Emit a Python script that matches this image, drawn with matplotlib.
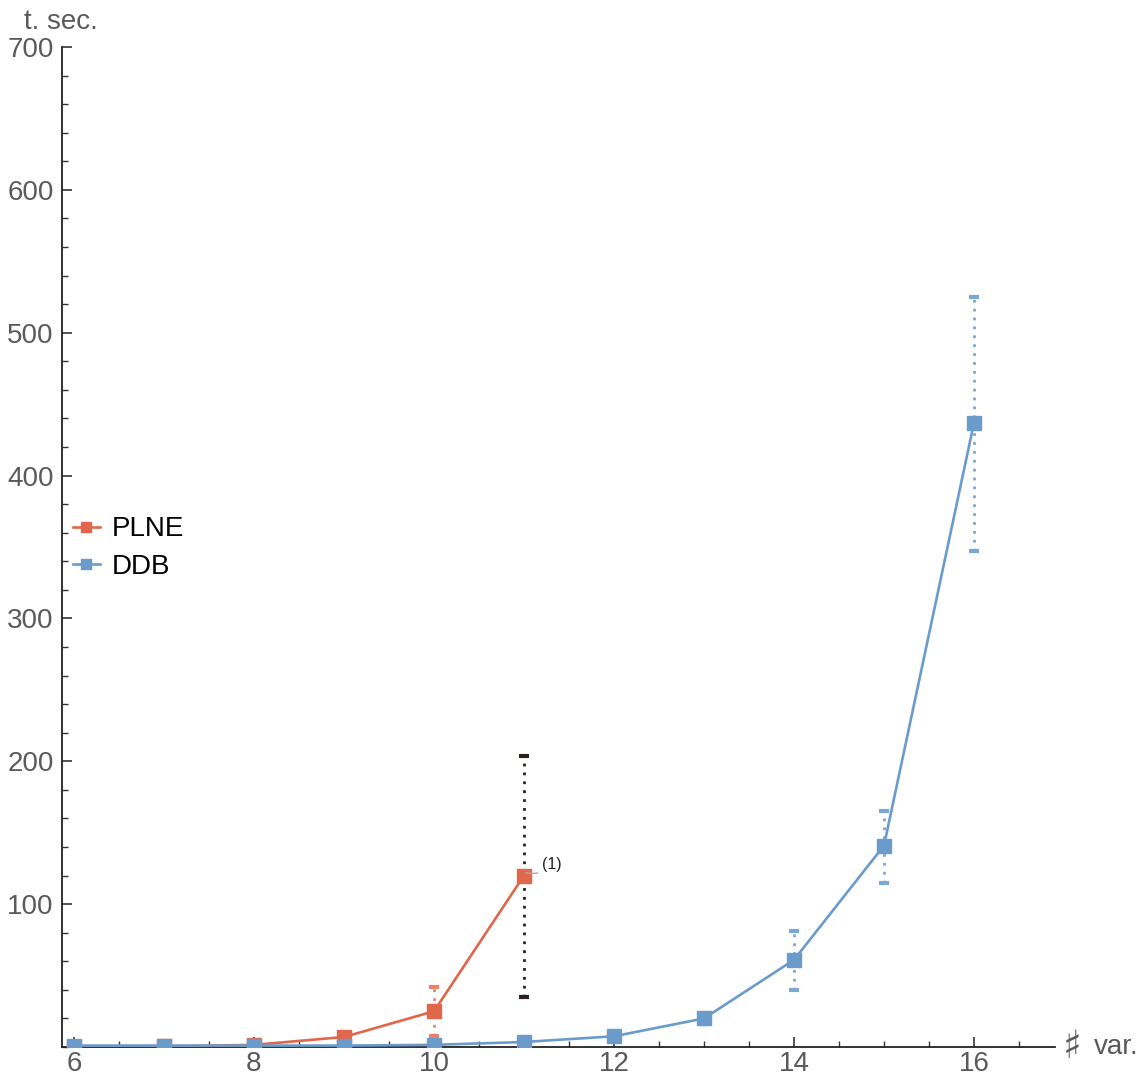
import matplotlib
matplotlib.use('Agg')
import matplotlib.pyplot as plt
from matplotlib.ticker import MultipleLocator

# data
plne_x = [6, 7, 8, 9, 10, 11]
plne_y = [0.2, 0.4, 1.5, 7, 25, 120]
plne_err_x = [10, 11]
plne_err_lo = [8, 35]
plne_err_hi = [42, 204]
plne_err_colors = ['#E8836A', '#2E1E1E']

ddb_x = [6, 7, 8, 9, 10, 11, 12, 13, 14, 15, 16]
ddb_y = [1, 1, 1, 1, 1.5, 3.5, 7.5, 20, 61, 141, 437]
ddb_err_x = [13, 14, 15, 16]
ddb_err_lo = [16, 40, 115, 347]
ddb_err_hi = [22, 81, 165, 525]

red = '#E0674A'
blue = '#6A9BCB'
grey = '#5A5A5A'

plt.rcParams['font.family'] = ['Liberation Sans', 'DejaVu Sans']

fig = plt.figure(figsize=(11.46, 10.77), dpi=100)
ax = fig.add_axes([62 / 1146, 30 / 1077, (1055 - 62) / 1146, (1047 - 47) / 1077])
ax.set_xlim(5.867, 16.9)
ax.set_ylim(0, 700)


def dotted_errorbar(x, lo, hi, color):
    mid = [(a + b) / 2 for a, b in zip(lo, hi)]
    half = [(b - a) / 2 for a, b in zip(lo, hi)]
    eb = ax.errorbar(x, mid, yerr=half, fmt='none', ecolor=color,
                     elinewidth=2, capsize=3.4, capthick=3, zorder=2)
    for lc in eb[2]:
        lc.set_linestyle((0, (1.0, 2.2)))


# error bars
for xi, lo, hi, c in zip(plne_err_x, plne_err_lo, plne_err_hi, plne_err_colors):
    dotted_errorbar([xi], [lo], [hi], c)
dotted_errorbar(ddb_err_x, ddb_err_lo, ddb_err_hi, '#7AA8D4')

# series
ax.plot(plne_x, plne_y, '-s', color=red, lw=1.9, ms=9.5, label='PLNE', zorder=3)
ax.plot(ddb_x, ddb_y, '-s', color=blue, lw=1.9, ms=9.5, label='DDB', zorder=4)

# annotation (1)
ax.annotate('(1)', xy=(11.02, 122), xytext=(11.2, 128), fontsize=11.5,
            color='#222222', va='center', ha='left',
            arrowprops=dict(arrowstyle='-', color='#AAAAAA', lw=1,
                            connectionstyle='arc3,rad=-0.3', shrinkA=1, shrinkB=0))

# axes styling
for s in ['top', 'right']:
    ax.spines[s].set_visible(False)
for s in ['left', 'bottom']:
    ax.spines[s].set_linewidth(1.3)
    ax.spines[s].set_color('#222222')

ax.xaxis.set_major_locator(MultipleLocator(2))
ax.xaxis.set_minor_locator(MultipleLocator(0.5))
ax.yaxis.set_major_locator(MultipleLocator(100))
ax.yaxis.set_minor_locator(MultipleLocator(20))
ax.tick_params(which='both', direction='in', colors='#333333', labelcolor=grey,
               labelsize=20)
ax.tick_params(which='major', length=7, width=1.2)
ax.tick_params(which='minor', length=4, width=1)
ax.tick_params(axis='y', pad=6)
ax.tick_params(axis='x', pad=3)
ax.set_xticks([6, 8, 10, 12, 14, 16])
ax.set_yticks(range(100, 800, 100))

# axis labels
fig.text(61 / 1146, 1 - 22 / 1077, 't. sec.', fontsize=20, color=grey,
         ha='center', va='center')
fig.text(1072 / 1146, 1 - 1047 / 1077, '\u266f', fontsize=28, color=grey,
         ha='center', va='center', family=['DejaVu Sans'])
fig.text(1094 / 1146, 1 - 1047 / 1077, 'var.', fontsize=20, color=grey,
         ha='left', va='center')

ax.legend(loc='center left', bbox_to_anchor=(-0.009, 1 - (548 - 47) / 1000),
          frameon=False, fontsize=20, handlelength=1.0, handletextpad=0.4,
          labelspacing=0.4, markerscale=0.8, borderpad=0.2)

fig.savefig('out.png', dpi=100)
